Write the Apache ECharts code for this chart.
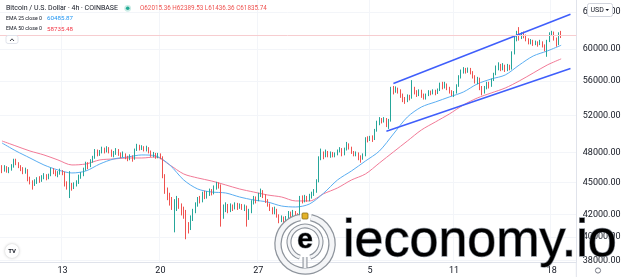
<!DOCTYPE html>
<html><head><meta charset="utf-8">
<script src="https://cdn.jsdelivr.net/npm/echarts@6/dist/echarts.min.js"></script>
<style>html,body{margin:0;padding:0;background:#fff}#c{width:624px;height:277px}</style>
</head><body><div id="c"></div><script>
// ---- data (BTC/USD, 4h candles, Coinbase) ----
const firstOpen = 46700;
const closes = [46500,
46200,46450,46150,46300,46550,47100,46900,46600,46350,46050,
46200,45450,45050,44850,45000,45350,45150,45500,45700,45400,
45650,46250,46100,45800,45950,46150,45900,44900,44650,44800,
44500,44800,44950,45600,45750,46250,46800,46650,47050,47450,
48150,47800,48050,48350,48150,48450,48150,47750,47900,48300,
47900,47600,47850,47500,47350,47650,47300,48250,48700,48450,
48600,48300,48500,48100,47700,47850,47550,47800,47500,45600,
44100,43800,43300,42700,43000,43300,42800,42400,42300,40900,
40750,41650,42250,42900,43400,43250,43850,43600,43900,44200,
43950,44450,44800,44650,41900,42500,42800,42400,42750,42600,
42900,42700,42850,42600,42750,41700,42300,43100,43500,43350,
43800,44150,43700,43250,42900,42500,42200,42450,41900,41500,
41700,41350,41650,42100,41800,42200,41900,41750,43500,43250,
43550,43350,43700,43900,44200,45100,47400,47900,47600,48000,
47700,47900,47650,47850,48150,48400,47750,48300,48850,48500,
48000,47800,47950,47500,47400,47700,49400,49300,49550,49400,
50300,51200,51500,51350,51600,51100,51400,55000,54800,55100,
54900,54300,53800,53600,54200,53950,55100,54700,54400,54800,
54300,54000,54350,54700,54500,54800,54600,54900,55500,55300,
55600,55100,54700,54400,54600,55400,56500,57100,57400,57200,
57450,57000,56500,56000,56300,55200,54700,55200,55700,55400,
56100,56800,57600,57900,57500,57800,57400,57700,57600,59400,
61500,61800,61500,62000,61800,61300,60800,61100,60700,60900,
60600,60900,60400,60100,61000,61900,62100,61300,60600,62015.36,
61835.74];
const highs = [46900,
46700,46700,46600,46500,46800,47350,47350,47000,46700,46500,
46450,46300,45550,45200,45300,45500,45600,45700,45900,45800,
45850,46450,46400,46200,46100,46350,46200,46050,45100,46100,
44950,45000,45200,45750,46000,46450,47050,47000,47300,47650,
48350,48300,48250,48600,48500,48650,48550,48300,48150,48450,
48350,48000,48100,47900,47650,47800,47700,48400,48900,48800,
48750,48650,48700,48550,48200,48050,47950,47950,47900,47600,
45800,44500,44000,43600,43400,43700,43500,43000,42700,42400,
41300,41900,42500,43100,43600,43700,44100,44200,44150,44400,
44350,44700,45050,45000,44800,42900,43100,42950,43000,42900,
43100,43050,43000,42950,42900,42800,42500,43300,43700,43650,
44000,44400,44250,43850,43400,43000,42650,42700,42500,42000,
41900,41800,41850,42300,42250,42400,42300,42100,43700,43750,
43800,43700,43900,44100,44350,45300,47600,48400,48100,48300,
48150,48100,48050,48000,48300,48550,48450,48500,49100,48950,
48600,48150,48100,48000,47700,47900,49600,49700,49750,49800,
50500,51400,51800,51700,51800,51700,51600,55300,55400,55350,
55200,55000,54500,54100,54400,54350,56100,55300,54900,55000,
54950,54500,54500,54900,54850,55000,54950,55100,55800,55900,
55900,55700,55300,54900,54800,55600,56700,57400,57700,57600,
57650,57600,57200,56700,56500,56400,55400,55400,55900,55900,
56300,57000,57900,58300,58100,58200,58000,58100,58000,59700,
61800,62400,62900,62200,62300,61900,61400,61300,61200,61100,
61000,61200,61000,60600,61200,62200,62400,62300,61500,62200,
62389.53];
const lows = [46300,
45900,46050,45950,45900,46150,46450,46700,46400,46100,45800,
45850,45100,44800,44300,44650,44850,44950,45050,45300,45200,
45300,45600,45800,45600,45500,45750,45700,44600,44300,43500,
44200,44350,44600,44850,45350,45600,46150,46300,46500,46950,
47350,47600,47650,47900,47900,48000,47900,47550,47500,47750,
47650,47400,47500,47300,47100,47200,47050,47250,48150,48200,
48250,48100,48100,47900,47550,47500,47350,47400,47300,45400,
43900,43300,42800,42400,40400,42300,42500,41900,41600,39800,
40300,40600,41400,42100,42700,43000,43100,43400,43450,43700,
43750,43850,44300,44400,40900,41600,42200,42100,42200,42300,
42450,42400,42500,42400,42300,40900,41500,42100,42900,43000,
43200,43600,43500,43050,42700,42300,42000,42000,41700,41200,
41300,41100,41000,41500,41600,41700,41700,41400,41400,43000,
43100,43150,43200,43450,43700,44000,45000,47200,47300,47500,
47500,47450,47500,47500,47700,48000,47600,47700,48200,48300,
47850,47600,47600,47200,46950,47250,47600,49050,49200,49100,
49300,50200,50900,51100,51200,50700,50500,51300,54400,54600,
54500,54000,53500,53300,53500,53700,53900,54400,54100,54200,
54000,53800,53800,54200,54300,54400,54300,54450,54800,55000,
55100,54900,54500,54200,54100,54500,55300,56300,56900,56900,
57000,56800,56300,55700,55600,54900,54300,54500,55000,55100,
55300,56000,56700,57300,57200,57300,57100,57200,57300,57400,
59300,61000,61100,61300,61400,61000,60600,60600,60400,60500,
60300,60500,60200,59700,59000,60900,61700,61100,60300,60500,
61436.36];
// EMA readings, one every 6 candles starting at candle 1
const emaStart = 1, emaStep = 6;
const ema25 = [48990,48150,47430,46720,46220,45920,46120,46820,47330,47530,47740,47640,46720,45230,44360,44070,43980,43600,43320,43130,42760,42670,42950,43950,45230,46120,47120,48150,49950,51810,52940,53520,54100,54680,55640,56240,56730,57960,59100,59740,60485.87];
const ema50 = [49200,48670,48150,47740,47230,46720,46820,47230,47330,47430,47430,47530,46720,45820,45430,45130,44750,44360,44070,43790,43600,43230,43230,43900,44460,45230,45820,46920,48050,49200,50380,51260,52150,53170,53980,54570,55160,56000,56970,57960,58735.48];
// channel trend lines [time, price]
const channelUpper = [['2021-10-06 16:00', 55700], ['2021-10-19 08:00', 64670]];
const channelLower = [['2021-10-06 04:00', 50250], ['2021-10-19 08:00', 57530]];
const yTicks = [38000, 40000, 42000, 45000, 48000, 52000, 56000, 60000, 65000];
const xTickDates = ['2021-09-13 00:00','2021-09-20 00:00','2021-09-27 00:00','2021-10-05 00:00','2021-10-11 00:00','2021-10-18 00:00'];
const xTickLabels = ['13','20','27','5','11','18'];
const futureSlots = 6;

// ---- build ----
const cats = [];
const t0 = Date.UTC(2021, 8, 8, 12);
for (let i = 0; i < closes.length + futureSlots; i++) {
  cats.push(new Date(t0 + i * 4 * 3600e3).toISOString().slice(0, 13).replace('T', ' ') + ':00');
}
const candles = closes.map((c, i) => [i === 0 ? firstOpen : closes[i - 1], c, lows[i], highs[i]]);
const sparse = (vals) => { const a = cats.map(() => null); vals.forEach((v, k) => { a[emaStart + k * emaStep] = v; }); return a; };
const lineFrom = (pts) => { const a = cats.map(() => null); pts.forEach(([t, v]) => { a[cats.indexOf(t)] = v; }); return a; };
const last = candles[candles.length - 1];
const F = 'Roboto, "Open Sans", sans-serif';
const silver = () => new echarts.graphic.LinearGradient(0, 0, 0, 1, [{offset: 0, color: '#ffffff'}, {offset: 0.55, color: '#f0f1f3'}, {offset: 1, color: '#c3c7cd'}]);
const txt = (x, y, text, font, fill, extra, z) => ({type: 'text', x, y, z: z || 50, style: Object.assign({text, font, fill, align: 'left', verticalAlign: 'middle', textAlign: 'left', textVerticalAlign: 'middle'}, extra || {})});

const chart = echarts.init(document.getElementById('c'), null, {renderer: 'canvas'});
chart.setOption({
  animation: false,
  backgroundColor: '#ffffff',
  grid: {left: -1.5, right: 47.7, top: 0, bottom: 15, outerBoundsMode: 'none', containLabel: false},
  xAxis: {
    type: 'category', data: cats, boundaryGap: true,
    axisLine: {show: true, lineStyle: {color: '#e0e3eb', width: 1}},
    axisTick: {show: false},
    axisLabel: {interval: (i, v) => xTickDates.includes(v), formatter: v => xTickLabels[xTickDates.indexOf(v)] || '', color: '#131722', fontSize: 9, fontFamily: F, margin: 4},
    splitLine: {show: true, interval: (i, v) => xTickDates.includes(v), lineStyle: {color: '#f3f5f9', width: 1}}
  },
  yAxis: {
    type: 'log', logBase: 10, position: 'right', min: 37895, max: 66690, scale: true,
    axisLine: {show: true, lineStyle: {color: '#e0e3eb', width: 1}},
    axisTick: {show: false, customValues: yTicks},
    axisLabel: {customValues: yTicks, formatter: v => Number(v).toFixed(2), color: '#131722', fontSize: 9, fontFamily: F, margin: 6.5},
    splitLine: {show: true, lineStyle: {color: '#f3f5f9', width: 1}}
  },
  series: [
    {type: 'line', name: 'EMA50', data: sparse(ema50), connectNulls: true, showSymbol: false, symbol: 'none', smooth: 0.3, lineStyle: {color: '#f27a97', width: 1}, z: 2, silent: true},
    {type: 'line', name: 'EMA25', data: sparse(ema25), connectNulls: true, showSymbol: false, symbol: 'none', smooth: 0.3, lineStyle: {color: '#5aaef2', width: 1}, z: 2, silent: true},
    {type: 'candlestick', data: candles, barWidth: 1.1, z: 3,
      itemStyle: {color: '#26a69a', color0: '#ef5350', borderColor: '#26a69a', borderColor0: '#ef5350', borderWidth: 1},
      markLine: {silent: true, symbol: ['none', 'none'], label: {show: false}, lineStyle: {color: '#f7cdd0', type: 'solid', width: 1}, data: [{yAxis: last[1]}]}
    },
    {type: 'line', name: 'upper', data: lineFrom(channelUpper), connectNulls: true, showSymbol: false, symbol: 'none', lineStyle: {color: '#3f5efb', width: 1.5}, z: 4, silent: true},
    {type: 'line', name: 'lower', data: lineFrom(channelLower), connectNulls: true, showSymbol: false, symbol: 'none', lineStyle: {color: '#3f5efb', width: 1.5}, z: 4, silent: true}
  ],
  graphic: [
    txt(6, 8.5, 'Bitcoin / U.S. Dollar · 4h · COINBASE', '7px ' + F, '#131722'),
    {type: 'circle', z: 50, shape: {cx: 127.7, cy: 8.3, r: 3.4}, style: {fill: '#cbece6'}},
    {type: 'circle', z: 51, shape: {cx: 127.7, cy: 8.3, r: 1.8}, style: {fill: '#22ab94'}},
    txt(140, 8.5, 'O' + last[0].toFixed(2) + ' H' + last[3].toFixed(2) + ' L' + last[2].toFixed(2) + ' C' + last[1].toFixed(2), '6.3px ' + F, '#ef5350'),
    txt(6, 18.3, 'EMA 25 close 0', '5.2px ' + F, '#131722'),
    txt(47, 18.3, ema25[ema25.length - 1].toFixed(2), '6.2px ' + F, '#2196f3'),
    txt(6, 29, 'EMA 50 close 0', '5.2px ' + F, '#131722'),
    txt(47, 29, ema50[ema50.length - 1].toFixed(2), '6.2px ' + F, '#f23645'),
    {type: 'rect', z: 50, shape: {x: 6, y: 35.5, width: 12, height: 8, r: 2}, style: {fill: '#fff', stroke: '#e0e3eb', lineWidth: 1}},
    {type: 'polyline', z: 51, shape: {points: [[10, 41], [12, 38.8], [14, 41]]}, style: {stroke: '#131722', lineWidth: 0.8, fill: null}},
    {type: 'rect', z: 60, shape: {x: 587.5, y: 3.5, width: 25, height: 13, r: 2}, style: {fill: '#fff', stroke: '#d1d4dc', lineWidth: 1}},
    txt(590.5, 10, 'USD', '7px ' + F, '#131722', {}, 62),
    {type: 'polygon', z: 62, shape: {points: [[605.5, 9], [609, 9], [607.25, 11]]}, style: {fill: '#131722'}},
    {type: 'line', z: 50, shape: {x1: 576.3, y1: 262, x2: 576.3, y2: 277}, style: {stroke: '#e0e3eb', lineWidth: 1}},
    {type: 'circle', z: 50, shape: {cx: 12, cy: 251, r: 7}, style: {fill: '#fff', shadowBlur: 3, shadowColor: 'rgba(0,0,0,0.25)'}},
    txt(12, 251, 'TV', 'bold 6px ' + F, '#131722', {align: 'center', textAlign: 'center'}, 52),
    {type: 'circle', z: 50, shape: {cx: 598, cy: 270.5, r: 2.6}, style: {fill: null, stroke: '#787b86', lineWidth: 1}},
    // watermark
    {type: 'arc', z: 100, shape: {cx: 305, cy: 244, r: 27, startAngle: -1.35, endAngle: 4.53}, style: {stroke: '#8e949c', lineWidth: 7.5, fill: null}},
    {type: 'arc', z: 101, shape: {cx: 305, cy: 244, r: 27, startAngle: -1.35, endAngle: 4.53}, style: {stroke: '#f4f5f7', lineWidth: 5, fill: null}},
    {type: 'arc', z: 100, shape: {cx: 305, cy: 242, r: 16, startAngle: 1.9, endAngle: 7.52}, style: {stroke: '#8e949c', lineWidth: 5, fill: null}},
    {type: 'arc', z: 101, shape: {cx: 305, cy: 242, r: 16, startAngle: 1.9, endAngle: 7.52}, style: {stroke: '#f4f5f7', lineWidth: 2.8, fill: null}},
    {type: 'line', z: 100, shape: {x1: 305, y1: 257, x2: 305, y2: 268}, style: {stroke: '#8e949c', lineWidth: 5}},
    {type: 'line', z: 101, shape: {x1: 305, y1: 257, x2: 305, y2: 268}, style: {stroke: '#f4f5f7', lineWidth: 2.8}},
    {type: 'text', z: 102, x: 305, y: 240, style: {text: 'e', font: 'bold 28px "Liberation Sans", sans-serif', fill: silver(), stroke: '#8e949c', lineWidth: 1.1, align: 'center', verticalAlign: 'middle', textAlign: 'center', textVerticalAlign: 'middle'}},
    {type: 'rect', z: 103, shape: {x: 302, y: 213, width: 6, height: 6, r: 1}, style: {fill: '#e3b22a', stroke: '#8a6d16', lineWidth: 0.8}},
    {type: 'text', z: 102, x: 343, y: 242, style: {text: 'ieconomy.io', font: '52px "Liberation Sans", sans-serif', fill: silver(), stroke: '#8a9099', lineWidth: 1.3, shadowBlur: 2, shadowOffsetY: 1, shadowColor: 'rgba(0,0,0,0.25)', align: 'left', verticalAlign: 'middle', textAlign: 'left', textVerticalAlign: 'middle'}}
  ]
});
</script></body></html>
